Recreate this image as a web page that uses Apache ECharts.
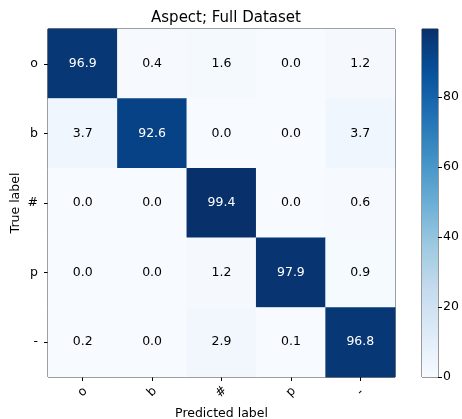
<!DOCTYPE html>
<html><head><meta charset="utf-8">
<script src="https://cdn.jsdelivr.net/npm/echarts@6/dist/echarts.min.js"></script>
<style>html,body{margin:0;padding:0;background:#fff}#c{width:462px;height:419px}</style>
</head><body><div id="c"></div>
<script>
const title = 'Aspect; Full Dataset';
const xName = 'Predicted label';
const yName = 'True label';
const trueLabels = ['o', 'b', '#', 'p', '-'];
const predLabels = ['o', 'b', '#', 'p', '-'];
const rowO = [96.9, 0.4, 1.6, 0.0, 1.2];
const rowB = [3.7, 92.6, 0.0, 0.0, 3.7];
const rowHash = [0.0, 0.0, 99.4, 0.0, 0.6];
const rowP = [0.0, 0.0, 1.2, 97.9, 0.9];
const rowDash = [0.2, 0.0, 2.9, 0.1, 96.8];
const colorbarTicks = [0, 20, 40, 60, 80];
const vmin = 0, vmax = 99.4;

const rows = [rowO, rowB, rowHash, rowP, rowDash];
const blues = ['#f7fbff','#deebf7','#c6dbef','#9ecae1','#6baed6','#4292c6','#2171b5','#08519c','#08306b'];
const data = [];
rows.forEach((r, i) => r.forEach((v, j) => data.push([j, i, v])));
const thresh = vmax / 2;
const font = 'DejaVu Sans';
const fs = 12.5;

const chart = echarts.init(document.getElementById('c'));
chart.setOption({
  animation: false,
  backgroundColor: '#fff',
  title: { text: title, left: 221, top: 6, textAlign: 'center',
    textStyle: { fontFamily: font, fontSize: 15, fontWeight: 'normal', color: '#000' } },
  graphic: [
    { type: 'text', x: 16, y: 203, rotation: Math.PI / 2,
      style: { text: yName, fontFamily: font, fontSize: fs, fill: '#000', align: 'center', verticalAlign: 'middle' } }
  ],
  grid: [
    { left: 48, top: 29, width: 347, height: 348, show: true, borderColor: '#000', borderWidth: 1,
      backgroundColor: 'transparent', containLabel: false, outerBoundsMode: 'none' },
    { left: 422, top: 29, width: 16, height: 348, show: true, borderColor: '#333', borderWidth: 1,
      backgroundColor: 'transparent', containLabel: false, outerBoundsMode: 'none' }
  ],
  xAxis: [
    { type: 'category', data: predLabels, gridIndex: 0, position: 'bottom',
      name: xName, nameLocation: 'middle', nameGap: 28,
      nameTextStyle: { fontFamily: font, fontSize: fs, color: '#000' },
      axisLine: { show: false }, axisTick: { show: true, alignWithLabel: true, length: 4, lineStyle: { color: '#000' } },
      axisLabel: { rotate: 45, fontFamily: font, fontSize: fs, color: '#000', margin: 15,
        align: 'center', verticalAlign: 'middle' },
      splitLine: { show: false } },
    { type: 'category', data: ['cb'], gridIndex: 1, show: false }
  ],
  yAxis: [
    { type: 'category', data: trueLabels, gridIndex: 0, inverse: true,
      axisLine: { show: false }, axisTick: { show: true, alignWithLabel: true, length: 4, lineStyle: { color: '#000' } },
      axisLabel: { fontFamily: font, fontSize: fs, color: '#000', margin: 10 },
      splitLine: { show: false } },
    { type: 'value', gridIndex: 1, min: vmin, max: vmax, interval: 20, position: 'right',
      axisLine: { show: false }, axisTick: { show: true, length: 4, lineStyle: { color: '#000' } },
      axisLabel: { fontFamily: font, fontSize: fs, color: '#000', margin: 5, showMaxLabel: false,
        formatter: v => colorbarTicks.includes(v) ? String(v) : '' },
      splitLine: { show: false } }
  ],
  visualMap: { show: false, min: vmin, max: vmax, seriesIndex: 0, dimension: 2, inRange: { color: blues } },
  series: [
    { type: 'heatmap', xAxisIndex: 0, yAxisIndex: 0,
      data: data.map(d => ({ value: d, label: { color: d[2] > thresh ? '#fff' : '#000' } })),
      label: { show: true, fontFamily: font, fontSize: fs,
        formatter: p => p.value[2].toFixed(1) },
      itemStyle: { borderWidth: 0 },
      emphasis: { disabled: true } },
    { type: 'bar', xAxisIndex: 1, yAxisIndex: 1, data: [vmax], barWidth: '100%',
      itemStyle: { color: new echarts.graphic.LinearGradient(0, 0, 0, 1,
        blues.slice().reverse().map((c, i) => ({ offset: i / (blues.length - 1), color: c }))) },
      silent: true }
  ]
});
</script></body></html>
